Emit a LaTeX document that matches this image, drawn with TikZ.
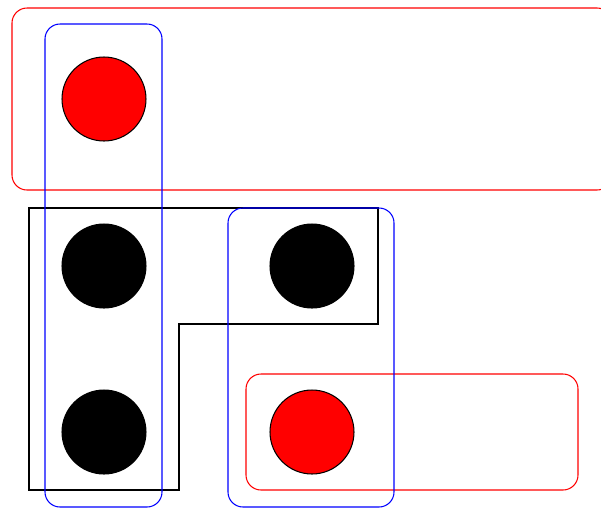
\documentclass[tikz,border=0pt]{standalone}
\begin{document}
\begin{tikzpicture}[x=0.02cm, y=-0.02cm, line width=0.6pt,
	ball/.style={circle, draw=black, minimum size=1.68cm, inner sep=0pt},
	redgroup/.style={draw=red, rounded corners=0.3cm},
	bluegroup/.style={draw=blue, rounded corners=0.3cm}]
	
	\useasboundingbox (0,0) rectangle (601,508);
	
	% Balls
	\node[ball, fill=red] (r1) at (104,99) {};
	\node[ball, fill=black] (b1) at (104,266) {};
	\node[ball, fill=black] (b2) at (104,432) {};
	\node[ball, fill=black] (b3) at (312,266) {};
	\node[ball, fill=red] (r2) at (312,432) {};
	
	% Black region
	\draw[black] (29,208) -- (378,208) -- (378,324) -- (179,324) -- (179,490) -- (29,490) -- cycle;
	
	% Red groups
	\draw[redgroup] (12,8) rectangle (612,190);
	\draw[redgroup] (246,374) rectangle (578,490);
	
	% Blue groups
	\draw[bluegroup] (45,24) rectangle (162,507);
	\draw[bluegroup] (228,208) rectangle (394,507);
	
\end{tikzpicture}
\end{document}
